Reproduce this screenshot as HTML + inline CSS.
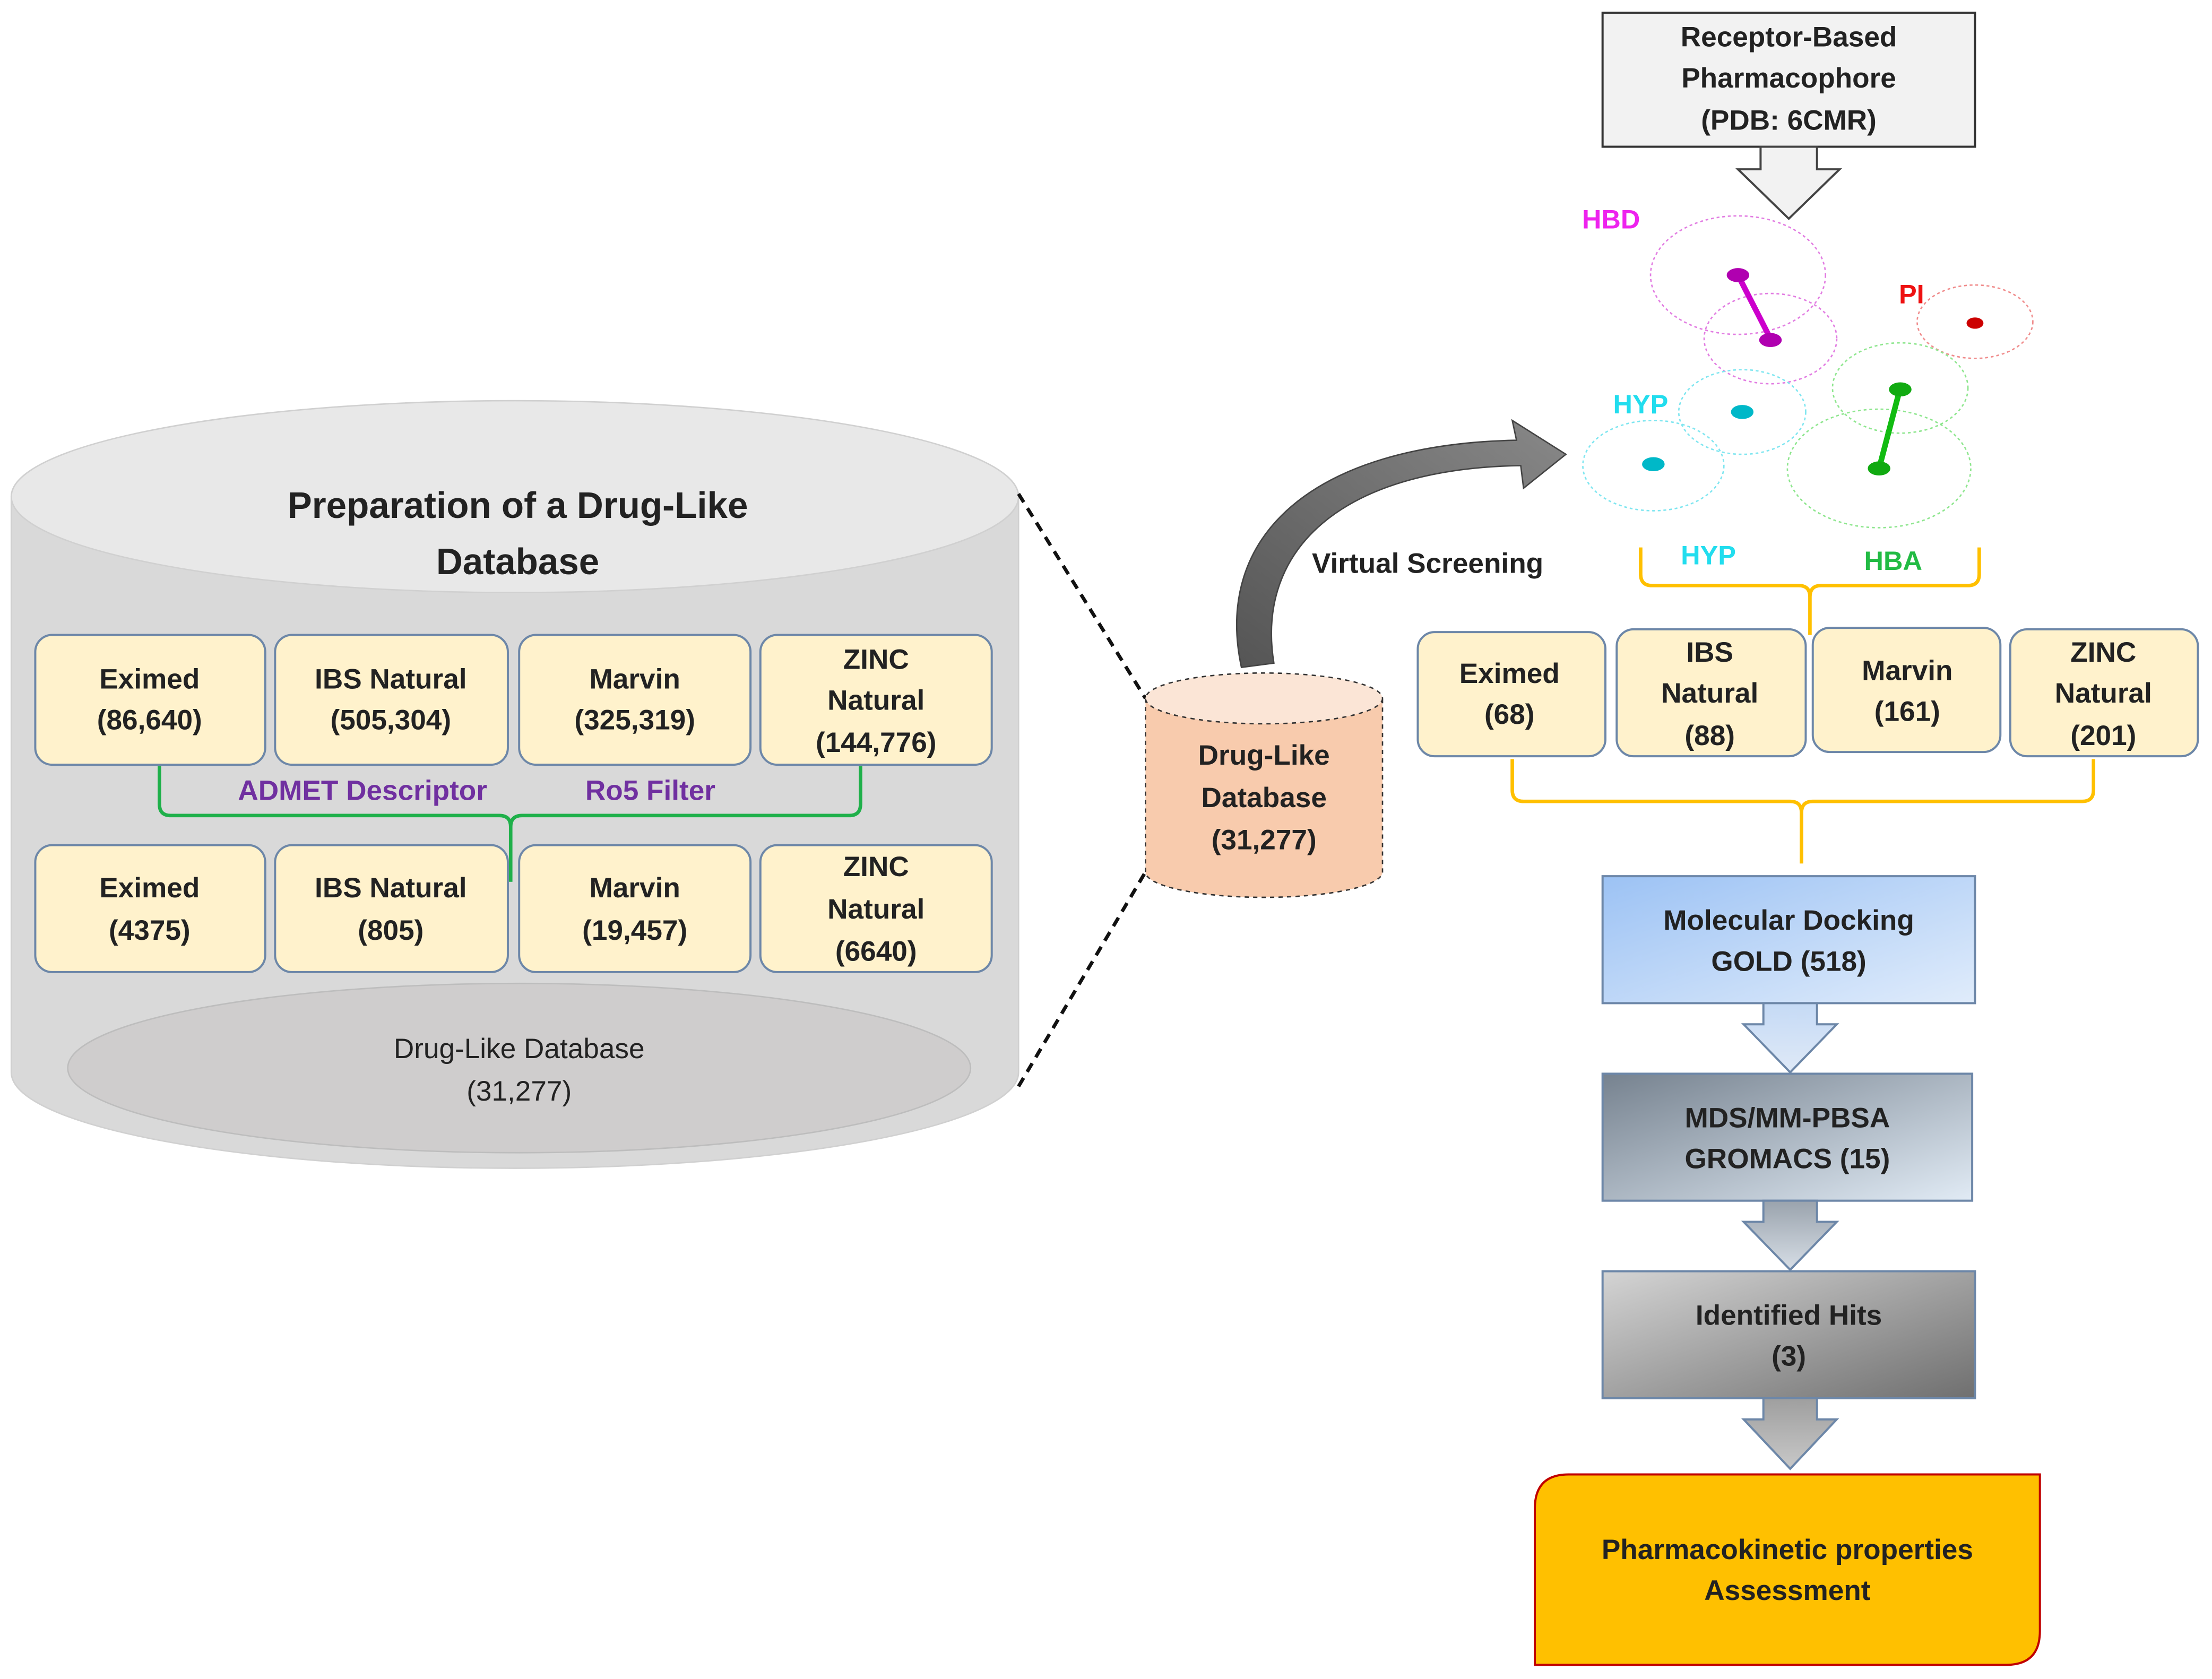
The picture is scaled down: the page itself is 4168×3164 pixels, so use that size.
<!DOCTYPE html>
<html><head><meta charset="utf-8"><style>
html,body{margin:0;padding:0;background:#fff;}
svg{display:block;}
text{font-family:"Liberation Sans",sans-serif;font-weight:bold;}
</style></head><body>
<svg width="4168" height="3164" viewBox="0 0 1568 1190" preserveAspectRatio="none" xmlns="http://www.w3.org/2000/svg">
<defs>
<linearGradient id="gb" x1="0" y1="0" x2="1" y2="1"><stop offset="0" stop-color="#9cc2f4"/><stop offset="1" stop-color="#e0ecfb"/></linearGradient>
<linearGradient id="gm" x1="0" y1="0" x2="1" y2="1"><stop offset="0" stop-color="#76828f"/><stop offset="1" stop-color="#e1ebf5"/></linearGradient>
<linearGradient id="gh" x1="0" y1="0" x2="1" y2="1"><stop offset="0" stop-color="#d4d4d4"/><stop offset="1" stop-color="#6f6f6f"/></linearGradient>
<linearGradient id="ab" x1="0" y1="0" x2="0" y2="1"><stop offset="0" stop-color="#c5daf5"/><stop offset="1" stop-color="#dfe9f7"/></linearGradient>
<linearGradient id="ag" x1="0" y1="0" x2="0" y2="1"><stop offset="0" stop-color="#9aa3ad"/><stop offset="1" stop-color="#d7dee6"/></linearGradient>
<linearGradient id="ah" x1="0" y1="0" x2="0" y2="1"><stop offset="0" stop-color="#9f9f9f"/><stop offset="1" stop-color="#c8c8c8"/></linearGradient>
<linearGradient id="cv" x1="0" y1="1" x2="1" y2="0"><stop offset="0" stop-color="#555"/><stop offset="1" stop-color="#888"/></linearGradient>
</defs>

<!-- big cylinder -->
<path d="M8 352 L8 760 A357 68 0 0 0 722 760 L722 352 Z" fill="#d9d9d9" stroke="#d0d0d0"/>
<ellipse cx="365" cy="352" rx="357" ry="68" fill="#e8e8e8" stroke="#d0d0d0"/>
<text x="367" y="367" font-size="26" text-anchor="middle" fill="#222">Preparation of a Drug-Like</text>
<text x="367" y="407" font-size="26" text-anchor="middle" fill="#222">Database</text>
<ellipse cx="368" cy="757" rx="320" ry="60" fill="#cfcdcd" stroke="#bdbdbd"/>
<text x="368" y="750" font-size="20" text-anchor="middle" fill="#222" font-weight="normal" style="font-weight:normal">Drug-Like Database</text>
<text x="368" y="780" font-size="20" text-anchor="middle" fill="#222" style="font-weight:normal">(31,277)</text>

<g fill="#fff2cc" stroke="#6d87a8" stroke-width="1.5">
<rect x="25" y="450" width="163" height="92" rx="12"/>
<rect x="195" y="450" width="165" height="92" rx="12"/>
<rect x="368" y="450" width="164" height="92" rx="12"/>
<rect x="539" y="450" width="164" height="92" rx="12"/>
<rect x="25" y="599" width="163" height="90" rx="12"/>
<rect x="195" y="599" width="165" height="90" rx="12"/>
<rect x="368" y="599" width="164" height="90" rx="12"/>
<rect x="539" y="599" width="164" height="90" rx="12"/>
</g>
<g font-size="20" text-anchor="middle" fill="#222">
<text x="106" y="488">Eximed</text><text x="106" y="517">(86,640)</text>
<text x="277" y="488">IBS Natural</text><text x="277" y="517">(505,304)</text>
<text x="450" y="488">Marvin</text><text x="450" y="517">(325,319)</text>
<text x="621" y="474">ZINC</text><text x="621" y="503">Natural</text><text x="621" y="533">(144,776)</text>
<text x="106" y="636">Eximed</text><text x="106" y="666">(4375)</text>
<text x="277" y="636">IBS Natural</text><text x="277" y="666">(805)</text>
<text x="450" y="636">Marvin</text><text x="450" y="666">(19,457)</text>
<text x="621" y="621">ZINC</text><text x="621" y="651">Natural</text><text x="621" y="681">(6640)</text>
</g>
<path d="M113 543 L113 570 Q113 578 121 578 L354 578 Q362 578 362 586 L362 625 M362 586 Q362 578 370 578 L602 578 Q610 578 610 570 L610 543" fill="none" stroke="#1fb04a" stroke-width="2.5"/>
<text x="257" y="567" font-size="20" text-anchor="middle" fill="#7030a0">ADMET Descriptor</text>
<text x="461" y="567" font-size="20" text-anchor="middle" fill="#7030a0">Ro5 Filter</text>

<!-- dashed connectors -->
<path d="M722 350 L812 495 M722 770 L812 618" stroke="#111" stroke-width="2.5" stroke-dasharray="7,5" fill="none"/>

<!-- small cylinder -->
<path d="M812 495 L812 618 A84 18 0 0 0 980 618 L980 495 Z" fill="#f8cbad" stroke="#333" stroke-dasharray="3,3"/>
<ellipse cx="896" cy="495" rx="84" ry="18" fill="#fbe5d6" stroke="#333" stroke-dasharray="3,3"/>
<g font-size="20" text-anchor="middle" fill="#222">
<text x="896" y="542">Drug-Like</text><text x="896" y="572">Database</text><text x="896" y="602">(31,277)</text>
</g>

<!-- curved arrow -->
<path d="M880 473 C860 380 930 315 1075 312 L1072 298 L1110 322 L1080 346 L1078 330 C950 332 890 390 903 470 Z" fill="url(#cv)" stroke="#444"/>
<text x="1012" y="406" font-size="20" text-anchor="middle" fill="#222">Virtual Screening</text>

<!-- receptor box -->
<rect x="1136" y="9" width="264" height="95" fill="#f2f2f2" stroke="#333" stroke-width="1.5"/>
<g font-size="20" text-anchor="middle" fill="#222">
<text x="1268" y="33">Receptor-Based</text><text x="1268" y="62">Pharmacophore</text><text x="1268" y="92">(PDB: 6CMR)</text>
</g>
<path d="M1248 104 L1288 104 L1288 120 L1304 120 L1268 155 L1232 120 L1248 120 Z" fill="#f2f2f2" stroke="#444" stroke-width="1.5"/>

<!-- pharmacophore -->
<g fill="none" stroke-width="1" stroke-dasharray="2,2">
<ellipse cx="1232" cy="195" rx="62" ry="42" stroke="#e27de2"/>
<ellipse cx="1255" cy="240" rx="47" ry="32" stroke="#e27de2"/>
<ellipse cx="1400" cy="228" rx="41" ry="26" stroke="#f08c8c"/>
<ellipse cx="1235" cy="292" rx="45" ry="30" stroke="#7fe6f0"/>
<ellipse cx="1172" cy="330" rx="50" ry="32" stroke="#7fe6f0"/>
<ellipse cx="1347" cy="275" rx="48" ry="32" stroke="#8ee68e"/>
<ellipse cx="1332" cy="332" rx="65" ry="42" stroke="#8ee68e"/>
</g>
<line x1="1232" y1="195" x2="1255" y2="240" stroke="#cc00cc" stroke-width="4"/>
<line x1="1347" y1="275" x2="1332" y2="332" stroke="#11bb11" stroke-width="4"/>
<ellipse cx="1232" cy="195" rx="8" ry="5" fill="#b000b0"/>
<ellipse cx="1255" cy="241" rx="8" ry="5" fill="#b000b0"/>
<ellipse cx="1400" cy="229" rx="6" ry="4" fill="#cc0000"/>
<ellipse cx="1235" cy="292" rx="8" ry="5" fill="#00b8c8"/>
<ellipse cx="1172" cy="329" rx="8" ry="5" fill="#00b8c8"/>
<ellipse cx="1347" cy="276" rx="8" ry="5" fill="#11aa11"/>
<ellipse cx="1332" cy="332" rx="8" ry="5" fill="#11aa11"/>
<text x="1142" y="162" font-size="19" text-anchor="middle" fill="#ee22ee">HBD</text>
<text x="1355" y="215" font-size="19" text-anchor="middle" fill="#ee1111">PI</text>
<text x="1163" y="293" font-size="19" text-anchor="middle" fill="#22ddee">HYP</text>

<path d="M1163 388 L1163 407 Q1163 415 1171 415 L1275 415 Q1283 415 1283 423 L1283 450 M1283 423 Q1283 415 1291 415 L1395 415 Q1403 415 1403 407 L1403 388" fill="none" stroke="#ffc000" stroke-width="2.5"/>
<text x="1211" y="400" font-size="19" text-anchor="middle" fill="#22ddee">HYP</text>
<text x="1342" y="404" font-size="19" text-anchor="middle" fill="#22bb44">HBA</text>

<g fill="#fff2cc" stroke="#6d87a8" stroke-width="1.5">
<rect x="1005" y="448" width="133" height="88" rx="12"/>
<rect x="1146" y="446" width="134" height="90" rx="12"/>
<rect x="1285" y="445" width="133" height="88" rx="12"/>
<rect x="1425" y="446" width="133" height="90" rx="12"/>
</g>
<g font-size="20" text-anchor="middle" fill="#222">
<text x="1070" y="484">Eximed</text><text x="1070" y="513">(68)</text>
<text x="1212" y="469">IBS</text><text x="1212" y="498">Natural</text><text x="1212" y="528">(88)</text>
<text x="1352" y="482">Marvin</text><text x="1352" y="511">(161)</text>
<text x="1491" y="469">ZINC</text><text x="1491" y="498">Natural</text><text x="1491" y="528">(201)</text>
</g>
<path d="M1072 538 L1072 560 Q1072 568 1080 568 L1269 568 Q1277 568 1277 576 L1277 612 M1277 576 Q1277 568 1285 568 L1476 568 Q1484 568 1484 560 L1484 538" fill="none" stroke="#ffc000" stroke-width="2.5"/>

<!-- flow boxes -->
<rect x="1136" y="621" width="264" height="90" fill="url(#gb)" stroke="#6d87a8" stroke-width="1.5"/>
<text x="1268" y="659" font-size="20" text-anchor="middle" fill="#222">Molecular Docking</text>
<text x="1268" y="688" font-size="20" text-anchor="middle" fill="#222">GOLD (518)</text>
<path d="M1250 711 L1288 711 L1288 726 L1302 726 L1269 760 L1236 726 L1250 726 Z" fill="url(#ab)" stroke="#6d87a8" stroke-width="1.5"/>

<rect x="1136" y="761" width="262" height="90" fill="url(#gm)" stroke="#6d87a8" stroke-width="1.5"/>
<text x="1267" y="799" font-size="20" text-anchor="middle" fill="#222">MDS/MM-PBSA</text>
<text x="1267" y="828" font-size="20" text-anchor="middle" fill="#222">GROMACS (15)</text>
<path d="M1250 851 L1288 851 L1288 866 L1302 866 L1269 900 L1236 866 L1250 866 Z" fill="url(#ag)" stroke="#6d87a8" stroke-width="1.5"/>

<rect x="1136" y="901" width="264" height="90" fill="url(#gh)" stroke="#6d87a8" stroke-width="1.5"/>
<text x="1268" y="939" font-size="20" text-anchor="middle" fill="#222">Identified Hits</text>
<text x="1268" y="968" font-size="20" text-anchor="middle" fill="#222">(3)</text>
<path d="M1250 991 L1288 991 L1288 1006 L1302 1006 L1269 1041 L1236 1006 L1250 1006 Z" fill="url(#ah)" stroke="#6d87a8" stroke-width="1.5"/>

<path d="M1112 1045 L1446 1045 L1446 1156 Q1446 1180 1422 1180 L1088 1180 L1088 1069 Q1088 1045 1112 1045 Z" fill="#ffc000" stroke="#c00000" stroke-width="1.5"/>
<text x="1267" y="1105" font-size="20" text-anchor="middle" fill="#222">Pharmacokinetic properties</text>
<text x="1267" y="1134" font-size="20" text-anchor="middle" fill="#222">Assessment</text>
</svg>
</body></html>
